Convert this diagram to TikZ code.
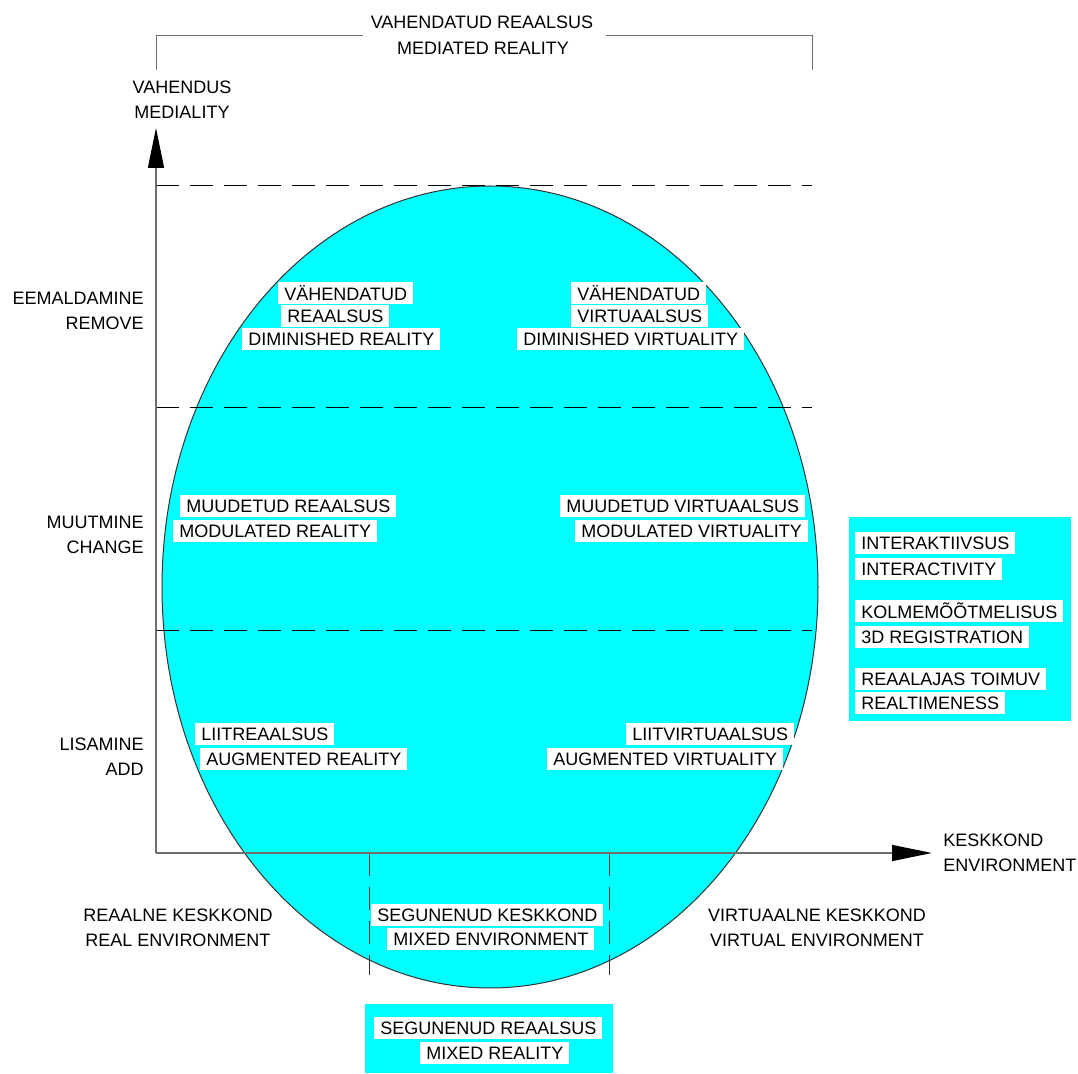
\documentclass[tikz,border=0pt]{standalone}
\usepackage{fontspec}
\setmainfont{Liberation Sans}
\usepackage{xcolor}
\usepackage{tikz}
\usetikzlibrary{shapes.geometric,arrows.meta,positioning,calc}

\definecolor{aqua}{RGB}{0,255,255}
\definecolor{axisgray}{RGB}{110,110,110}

\begin{document}
\begin{tikzpicture}[
    x=0.5pt, y=-0.5pt,
    txt/.style={font=\fontsize{9}{12.5}\selectfont, inner sep=0pt, align=center},
    tag/.style={fill=white, font=\fontsize{9}{10}\selectfont, inner xsep=3pt, inner ysep=0pt, minimum height=11pt, anchor=west},
    axis/.style={draw=axisgray, line width=0.7pt, -{Triangle[length=20pt,width=8pt,color=black]}},
    grid/.style={dashed, dash pattern=on 11.5pt off 5.5pt, line width=0.5pt},
    bracket/.style={draw=axisgray, line width=0.5pt}
]
    \useasboundingbox (0,0) rectangle (1078,1074);

    % Realm ellipse
    \node[ellipse, draw=black!80, line width=0.5pt, fill=aqua, minimum width=328pt, minimum height=401pt, inner sep=0pt] (realm) at (490,587) {};

    % Feature boxes
    \fill[aqua] (849,517) rectangle (1071,721);
    \fill[aqua] (365,1004) rectangle (613,1073);

    % Axes and grid
    \coordinate (O) at (156,853);
    \coordinate (ytip) at (156,128);
    \coordinate (xtip) at (932,853);
    \foreach \yy in {186,408,631}
        \draw[grid] (156,\yy) -- (812,\yy);
    \foreach \xx in {369,609}
        \draw[grid, draw=black!80] (\xx,853) -- (\xx,975);
    \draw[axis] (O) -- (ytip);
    \draw[axis] (O) -- (xtip);

    % Mediated reality bracket
    \node[txt] (mr1) at (482,22) {VAHENDATUD REAALSUS};
    \node[txt] (mr2) at (483,48) {MEDIATED REALITY};
    \coordinate (bl) at (156,70);
    \coordinate (br) at (812,70);
    \coordinate (gl) at (363,36);
    \coordinate (gr) at (606,36);
    \draw[bracket] (bl) |- (gl);
    \draw[bracket] (gr) -| (br);

    % Axis labels
    \node[txt] (med) at (182,99.5) {VAHENDUS\\MEDIALITY};
    \node[txt, align=left, anchor=west] (env) at (943,853) {\fontsize{9}{11.5}\selectfont KESKKOND\\ENVIRONMENT};
    \node[txt, align=right, anchor=east] (remove) at (144,310.5) {EEMALDAMINE\\REMOVE};
    \node[txt, align=right, anchor=east] (change) at (144,534.5) {MUUTMINE\\CHANGE};
    \node[txt, align=right, anchor=east] (add) at (144,757) {LISAMINE\\ADD};
    \node[txt] (realenv) at (178,927.5) {REAALNE KESKKOND\\REAL ENVIRONMENT};
    \node[txt] (virtenv) at (817,927.5) {VIRTUAALNE KESKKOND\\VIRTUAL ENVIRONMENT};

    % Row 1: remove
    \node[tag] (dr1) at (278,293.5) {VÄHENDATUD};
    \node[tag] (dr2) at (281,316) {REAALSUS};
    \node[tag] (dr3) at (242,339) {DIMINISHED REALITY};
    \node[tag] (dv1) at (571,293.5) {VÄHENDATUD};
    \node[tag] (dv2) at (571,316) {VIRTUAALSUS};
    \node[tag] (dv3) at (517,339) {DIMINISHED VIRTUALITY};

    % Row 2: change
    \node[tag] (mr) at (180,506) {MUUDETUD REAALSUS};
    \node[tag] (mre) at (173,531) {MODULATED REALITY};
    \node[tag] (mv) at (560,506) {MUUDETUD VIRTUAALSUS};
    \node[tag] (mve) at (575,531) {MODULATED VIRTUALITY};

    % Row 3: add
    \node[tag] (ar) at (195,734) {LIITREAALSUS};
    \node[tag] (are) at (200,759) {AUGMENTED REALITY};
    \node[tag] (av) at (626,734) {LIITVIRTUAALSUS};
    \node[tag] (ave) at (547,759) {AUGMENTED VIRTUALITY};

    % Mixed environment and mixed reality
    \node[tag] (me1) at (371,915) {SEGUNENUD KESKKOND};
    \node[tag] (me2) at (387,939.5) {MIXED ENVIRONMENT};
    \node[tag] (mx1) at (374,1028) {SEGUNENUD REAALSUS};
    \node[tag] (mx2) at (420,1053) {MIXED REALITY};

    % Properties
    \node[tag] (p1) at (855,543.5) {INTERAKTIIVSUS};
    \node[tag] (p2) at (855,569) {INTERACTIVITY};
    \node[tag] (p3) at (855,611) {KOLMEMÕÕTMELISUS};
    \node[tag] (p4) at (855,637) {3D REGISTRATION};
    \node[tag] (p5) at (855,679) {REAALAJAS TOIMUV};
    \node[tag] (p6) at (855,703.5) {REALTIMENESS};
\end{tikzpicture}
\end{document}
